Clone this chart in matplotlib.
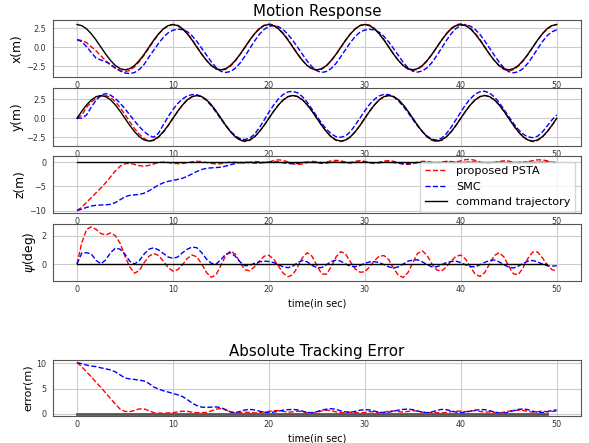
import numpy as np
import matplotlib
matplotlib.use("Agg")
import matplotlib.pyplot as plt

# time samples (s)
t = np.arange(0, 50.01, 0.5)
t_cmd_end = [0, 49]
zero_cmd = [0, 0]

# x(m)
x_cmd = [3.00, 2.85, 2.43, 1.76, 0.93, 0.00, -0.93, -1.76, -2.43, -2.85,
         -3.00, -2.85, -2.43, -1.76, -0.93, 0.00, 0.93, 1.76, 2.43, 2.85,
         3.00, 2.85, 2.43, 1.76, 0.93, 0.00, -0.93, -1.76, -2.43, -2.85,
         -3.00, -2.85, -2.43, -1.76, -0.93, 0.00, 0.93, 1.76, 2.43, 2.85,
         3.00, 2.85, 2.43, 1.76, 0.93, 0.00, -0.93, -1.76, -2.43, -2.85,
         -3.00, -2.85, -2.43, -1.76, -0.93, 0.00, 0.93, 1.76, 2.43, 2.85,
         3.00, 2.85, 2.43, 1.76, 0.93, 0.00, -0.93, -1.76, -2.43, -2.85,
         -3.00, -2.85, -2.43, -1.76, -0.93, 0.00, 0.93, 1.76, 2.43, 2.85,
         3.00, 2.85, 2.43, 1.76, 0.93, 0.00, -0.93, -1.76, -2.43, -2.85,
         -3.00, -2.85, -2.43, -1.76, -0.93, 0.00, 0.93, 1.76, 2.43, 2.85,
         3.00]
x_psta = [1.00, 0.88, 0.60, 0.05, -0.50, -1.15, -1.80, -2.35, -2.80, -3.10,
          -3.24, -3.10, -2.60, -1.90, -1.05, -0.10, 0.85, 1.72, 2.40, 2.85,
          3.02, 2.90, 2.50, 1.85, 1.00, 0.05, -0.90, -1.75, -2.45, -2.90,
          -3.08, -2.93, -2.50, -1.82, -0.98, -0.05, 0.90, 1.78, 2.47, 2.92,
          3.08, 2.95, 2.52, 1.85, 1.00, 0.05, -0.90, -1.76, -2.45, -2.90,
          -3.06, -2.92, -2.48, -1.80, -0.97, -0.04, 0.90, 1.77, 2.45, 2.90,
          3.05, 2.93, 2.50, 1.83, 0.99, 0.04, -0.90, -1.76, -2.46, -2.91,
          -3.07, -2.93, -2.49, -1.81, -0.97, -0.03, 0.92, 1.80, 2.50, 2.95,
          3.12, 2.98, 2.55, 1.86, 1.00, 0.04, -0.92, -1.78, -2.48, -2.95,
          -3.14, -2.98, -2.52, -1.83, -0.98, -0.03, 0.91, 1.77, 2.45, 2.88,
          3.02]
x_smc = [1.00, 0.73, 0.07, -0.72, -1.47, -1.70, -1.92, -2.27, -2.75, -3.15,
         -3.42, -3.50, -3.36, -2.94, -2.28, -1.30, -0.40, 0.50, 1.30, 1.90,
         2.25, 2.38, 2.32, 2.05, 1.50, 0.75, -0.15, -1.05, -1.95, -2.70,
         -3.20, -3.35, -3.22, -2.80, -2.10, -1.20, -0.20, 0.80, 1.70, 2.35,
         2.75, 2.85, 2.72, 2.32, 1.68, 0.88, -0.02, -0.95, -1.85, -2.60,
         -3.12, -3.35, -3.22, -2.82, -2.15, -1.25, -0.30, 0.62, 1.42, 2.00,
         2.28, 2.36, 2.28, 1.98, 1.42, 0.68, -0.20, -1.10, -2.00, -2.72,
         -3.18, -3.30, -3.15, -2.72, -2.02, -1.12, -0.12, 0.88, 1.78, 2.48,
         2.88, 2.95, 2.80, 2.36, 1.68, 0.82, -0.12, -1.08, -1.98, -2.74,
         -3.25, -3.40, -3.25, -2.82, -2.12, -1.22, -0.22, 0.72, 1.52, 2.04,
         2.30]

# y(m)
y_cmd = [0.00, 0.93, 1.76, 2.43, 2.85, 3.00, 2.85, 2.43, 1.76, 0.93,
         0.00, -0.93, -1.76, -2.43, -2.85, -3.00, -2.85, -2.43, -1.76, -0.93,
         0.00, 0.93, 1.76, 2.43, 2.85, 3.00, 2.85, 2.43, 1.76, 0.93,
         0.00, -0.93, -1.76, -2.43, -2.85, -3.00, -2.85, -2.43, -1.76, -0.93,
         0.00, 0.93, 1.76, 2.43, 2.85, 3.00, 2.85, 2.43, 1.76, 0.93,
         0.00, -0.93, -1.76, -2.43, -2.85, -3.00, -2.85, -2.43, -1.76, -0.93,
         0.00, 0.93, 1.76, 2.43, 2.85, 3.00, 2.85, 2.43, 1.76, 0.93,
         0.00, -0.93, -1.76, -2.43, -2.85, -3.00, -2.85, -2.43, -1.76, -0.93,
         0.00, 0.93, 1.76, 2.43, 2.85, 3.00, 2.85, 2.43, 1.76, 0.93,
         0.00, -0.93, -1.76, -2.43, -2.85, -3.00, -2.85, -2.43, -1.76, -0.93,
         0.00]
y_psta = [0.00, 0.40, 1.45, 2.15, 2.60, 2.90, 2.98, 2.75, 2.20, 1.40,
          0.50, -0.45, -1.35, -2.10, -2.65, -3.02, -2.92, -2.50, -1.82, -0.97,
          -0.02, 0.92, 1.75, 2.42, 2.85, 3.01, 2.87, 2.45, 1.79, 0.96,
          0.02, -0.92, -1.77, -2.45, -2.89, -3.06, -2.91, -2.47, -1.79, -0.95,
          -0.01, 0.93, 1.76, 2.43, 2.86, 3.02, 2.88, 2.45, 1.78, 0.95,
          0.02, -0.92, -1.77, -2.46, -2.90, -3.06, -2.90, -2.46, -1.78, -0.94,
          0.00, 0.93, 1.76, 2.43, 2.86, 3.01, 2.87, 2.45, 1.78, 0.95,
          0.02, -0.92, -1.77, -2.45, -2.89, -3.05, -2.90, -2.46, -1.78, -0.94,
          0.00, 0.93, 1.77, 2.44, 2.87, 3.02, 2.88, 2.45, 1.78, 0.95,
          0.02, -0.92, -1.78, -2.46, -2.90, -3.07, -2.92, -2.48, -1.80, -0.95,
          -0.02]
y_smc = [0.00, 0.02, 0.45, 1.50, 2.40, 3.05, 3.25, 3.05, 2.60, 2.00,
         1.25, 0.45, -0.35, -1.10, -1.75, -2.25, -2.50, -1.95, -0.85, 0.20,
         1.15, 1.95, 2.55, 2.95, 3.12, 3.10, 2.85, 2.35, 1.65, 0.80,
         -0.10, -0.95, -1.70, -2.30, -2.68, -2.80, -2.62, -2.10, -1.25, -0.25,
         0.80, 1.75, 2.55, 3.15, 3.48, 3.56, 3.35, 2.85, 2.10, 1.20,
         0.25, -0.65, -1.45, -2.05, -2.42, -2.50, -2.32, -1.75, -0.90, 0.05,
         0.98, 1.85, 2.50, 2.95, 3.15, 3.12, 2.85, 2.30, 1.60, 0.75,
         -0.15, -1.00, -1.75, -2.35, -2.75, -2.86, -2.62, -2.02, -1.18, -0.18,
         0.82, 1.78, 2.58, 3.18, 3.50, 3.56, 3.33, 2.82, 2.08, 1.18,
         0.22, -0.68, -1.48, -2.08, -2.45, -2.55, -2.36, -1.82, -1.02, -0.22,
         0.45]

# z(m)
z_psta = [-10.0, -9.3, -8.3, -7.3, -6.3, -5.3, -4.2, -3.0, -1.8, -0.8,
          -0.3, -0.2, -0.45, -0.7, -0.8, -0.65, -0.35, -0.05, 0.05, -0.05,
          -0.2, -0.3, -0.25, -0.1, 0.1, 0.2, 0.15, -0.05, -0.25, -0.35,
          -0.3, -0.1, 0.05, 0.0, -0.1, -0.15, 0.0, 0.15, 0.1, -0.05,
          0.05, 0.35, 0.5, 0.4, 0.05, -0.3, -0.45, -0.35, -0.05, 0.2,
          0.1, -0.1, 0.05, 0.3, 0.4, 0.3, 0.05, -0.05, 0.2, 0.35,
          0.2, -0.1, -0.2, 0.0, 0.25, 0.35, 0.2, -0.1, -0.35, -0.45,
          -0.3, 0.0, 0.2, 0.15, -0.05, -0.15, 0.0, 0.2, 0.15, 0.05,
          0.3, 0.55, 0.6, 0.4, 0.05, -0.25, -0.3, -0.1, 0.15, 0.3,
          0.25, 0.0, -0.2, -0.1, 0.1, 0.35, 0.5, 0.5, 0.3, 0.05,
          -0.05]
z_smc = [-10.0, -9.7, -9.35, -9.05, -8.9, -8.85, -8.8, -8.7, -8.35, -7.75,
         -7.15, -6.85, -6.75, -6.65, -6.4, -5.9, -5.3, -4.7, -4.25, -3.95,
         -3.75, -3.55, -3.3, -2.9, -2.4, -1.9, -1.5, -1.25, -1.15, -1.1,
         -1.0, -0.8, -0.5, -0.25, -0.05, 0.0, -0.05, -0.15, -0.15, -0.05,
         0.05, 0.1, 0.05, -0.1, -0.25, -0.3, -0.2, -0.05, 0.05, 0.0,
         -0.1, -0.2, -0.15, 0.0, 0.05, 0.0, -0.1, -0.15, -0.05, 0.05,
         0.05, -0.05, -0.15, -0.1, 0.0, 0.05, -0.05, -0.2, -0.35, -0.3,
         -0.15, -0.05, 0.0, -0.1, -0.2, -0.15, 0.0, 0.05, 0.0, -0.1,
         -0.15, -0.05, 0.05, 0.0, -0.1, -0.2, -0.15, -0.05, 0.0, -0.05,
         -0.15, -0.15, -0.05, 0.0, -0.05, -0.15, -0.1, 0.0, 0.05, -0.05,
         -0.1]

# psi(deg)
psi_psta = [0.0, 1.5, 2.45, 2.63, 2.45, 2.15, 2.05, 2.2, 2.0, 1.46,
            0.55, -0.2, -0.65, -0.45, 0.1, 0.55, 0.75, 0.6, 0.2, -0.25,
            -0.5, -0.4, -0.05, 0.4, 0.64, 0.5, 0.0, -0.6, -0.94, -0.75,
            -0.1, 0.6, 0.92, 0.7, 0.1, -0.4, -0.48, -0.2, 0.2, 0.55,
            0.62, 0.35, -0.15, -0.65, -0.9, -0.75, -0.2, 0.45, 0.8, 0.55,
            -0.1, -0.7, -0.72, -0.2, 0.5, 0.88, 0.7, 0.15, -0.35, -0.58,
            -0.55, -0.2, 0.25, 0.55, 0.6, 0.3, -0.3, -0.8, -0.95, -0.6,
            0.1, 0.75, 0.93, 0.6, 0.0, -0.42, -0.5, -0.2, 0.2, 0.55,
            0.63, 0.35, -0.2, -0.72, -0.88, -0.6, 0.0, 0.6, 0.8, 0.5,
            -0.15, -0.7, -0.75, -0.25, 0.4, 0.85, 0.85, 0.45, -0.05, -0.4,
            -0.5]
psi_smc = [0.0, 0.78, 0.8, 0.7, 0.25, 0.02, 0.3, 0.8, 1.12, 1.05,
           0.7, 0.2, 0.0, 0.25, 0.7, 1.05, 1.15, 1.0, 0.75, 0.5,
           0.4, 0.5, 0.8, 1.05, 1.2, 1.15, 0.8, 0.35, 0.05, 0.0,
           0.3, 0.7, 0.8, 0.55, 0.15, -0.12, -0.1, 0.05, 0.15, 0.2,
           0.18, 0.1, -0.05, -0.2, -0.26, -0.15, 0.1, 0.25, 0.15, -0.1,
           -0.25, -0.25, -0.05, 0.18, 0.28, 0.2, 0.0, -0.15, -0.19, -0.1,
           0.05, 0.15, 0.17, 0.1, -0.05, -0.2, -0.28, -0.2, 0.0, 0.2,
           0.28, 0.3, 0.15, -0.05, -0.2, -0.2, -0.05, 0.1, 0.18, 0.2,
           0.1, -0.05, -0.18, -0.2, -0.05, 0.12, 0.25, 0.28, 0.15, -0.05,
           -0.22, -0.28, -0.15, 0.05, 0.2, 0.25, 0.15, 0.0, -0.12, -0.15,
           -0.12]

# absolute tracking error (m)
err_psta = [10.2, 9.3, 8.3, 7.3, 6.2, 5.2, 4.1, 3.0, 1.9, 0.9,
            0.45, 0.4, 0.65, 0.95, 0.95, 0.6, 0.2, 0.1, 0.1, 0.15,
            0.2, 0.35, 0.5, 0.45, 0.3, 0.2, 0.2, 0.25, 0.55, 0.9,
            1.0, 0.75, 0.35, 0.15, 0.2, 0.3, 0.25, 0.15, 0.2, 0.35,
            0.45, 0.6, 0.6, 0.45, 0.3, 0.35, 0.5, 0.4, 0.2, 0.15,
            0.3, 0.55, 0.7, 0.6, 0.35, 0.2, 0.25, 0.3, 0.2, 0.15,
            0.25, 0.4, 0.35, 0.2, 0.3, 0.5, 0.55, 0.4, 0.3, 0.45,
            0.6, 0.5, 0.3, 0.2, 0.25, 0.2, 0.15, 0.25, 0.4, 0.5,
            0.5, 0.4, 0.55, 0.6, 0.45, 0.3, 0.35, 0.25, 0.15, 0.3,
            0.5, 0.6, 0.7, 0.65, 0.45, 0.3, 0.4, 0.5, 0.4, 0.45,
            0.5]
err_smc = [10.15, 9.9, 9.65, 9.45, 9.35, 9.1, 8.9, 8.7, 8.3, 7.7,
           7.1, 6.9, 6.8, 6.65, 6.5, 6.0, 5.3, 4.9, 4.55, 4.3,
           4.0, 3.75, 3.4, 2.8, 2.1, 1.6, 1.3, 1.25, 1.3, 1.35,
           1.2, 0.8, 0.35, 0.2, 0.45, 0.75, 0.85, 0.75, 0.5, 0.3,
           0.2, 0.3, 0.5, 0.7, 0.8, 0.85, 0.75, 0.5, 0.25, 0.2,
           0.4, 0.7, 0.9, 1.0, 0.85, 0.55, 0.35, 0.3, 0.45, 0.7,
           0.8, 0.75, 0.5, 0.3, 0.2, 0.3, 0.5, 0.7, 0.85, 0.9,
           0.8, 0.55, 0.3, 0.2, 0.35, 0.65, 0.85, 0.8, 0.55, 0.3,
           0.2, 0.3, 0.5, 0.7, 0.8, 0.8, 0.6, 0.35, 0.15, 0.1,
           0.3, 0.6, 0.85, 0.95, 0.8, 0.5, 0.25, 0.2, 0.4, 0.65,
           0.75]

xticks = [0, 10, 20, 30, 40, 50]

W, H = 589, 443
fig = plt.figure(figsize=(W / 100, H / 100), dpi=100)


def make_axes(top, bottom):
    ax = fig.add_axes([53 / W, 1 - bottom / H, 527.7 / W, (bottom - top) / H])
    ax.set_xlim(-2.5, 52.5)
    ax.set_xticks(xticks)
    ax.grid(True, color='#cccccc', linewidth=0.8)
    ax.set_axisbelow(True)
    for s in ax.spines.values():
        s.set_color('#555555')
        s.set_linewidth(0.8)
    ax.tick_params(length=0, labelsize=5.8, colors='#333333')
    ax.tick_params(axis='x', pad=3)
    ax.tick_params(axis='y', pad=5)
    return ax


dash = dict(linestyle='--', linewidth=1.0)
solid = dict(color='k', linewidth=1.0)

ax1 = make_axes(20.3, 77)
ax1.plot(t, x_psta, color='r', **dash)
ax1.plot(t, x_smc, color='b', **dash)
ax1.plot(t, x_cmd, **solid)
ax1.set_ylim(-3.95, 3.56)
ax1.set_yticks([-2.5, 0, 2.5])
ax1.set_ylabel('x(m)', fontsize=8.8, labelpad=2)
ax1.set_title('Motion Response', fontsize=10.8, pad=3)

ax2 = make_axes(88, 145.5)
ax2.plot(t, y_psta, color='r', **dash)
ax2.plot(t, y_smc, color='b', **dash)
ax2.plot(t, y_cmd, **solid)
ax2.set_ylim(-3.58, 3.99)
ax2.set_yticks([-2.5, 0, 2.5])
ax2.set_ylabel('y(m)', fontsize=8.8, labelpad=2)

ax3 = make_axes(156, 212.5)
ax3.plot(t, z_psta, color='r', label='proposed PSTA', **dash)
ax3.plot(t, z_smc, color='b', label='SMC', **dash)
ax3.plot(t_cmd_end, zero_cmd, label='command trajectory', **solid)
ax3.set_ylim(-10.4, 1.3)
ax3.set_yticks([-10, -5, 0])
ax3.set_ylabel('z(m)', fontsize=8.8, labelpad=2)
leg = ax3.legend(loc='upper right', fontsize=8.1)
leg.set_zorder(10)

ax4 = make_axes(224, 281)
ax4.plot(t, psi_psta, color='r', **dash)
ax4.plot(t, psi_smc, color='b', **dash)
ax4.plot(t_cmd_end, zero_cmd, **solid)
ax4.set_ylim(-1.2, 2.83)
ax4.set_yticks([0, 2])
ax4.set_ylabel(r'$\psi$(deg)', fontsize=8.8, labelpad=2)
ax4.set_xlabel('time(in sec)', fontsize=7, labelpad=3)

ax5 = make_axes(360, 416)
ax5.plot(t, err_psta, color='r', **dash)
ax5.plot(t, err_smc, color='b', **dash)
ax5.plot(t_cmd_end, zero_cmd, color='#555555', linewidth=2.0)
ax5.set_ylim(-0.46, 10.66)
ax5.set_yticks([0, 5, 10])
ax5.set_ylabel('error(m)', fontsize=8, labelpad=2)
ax5.set_xlabel('time(in sec)', fontsize=7, labelpad=3)
ax5.set_title('Absolute Tracking Error', fontsize=10.8, pad=3)

fig.savefig('out.png', dpi=100)
